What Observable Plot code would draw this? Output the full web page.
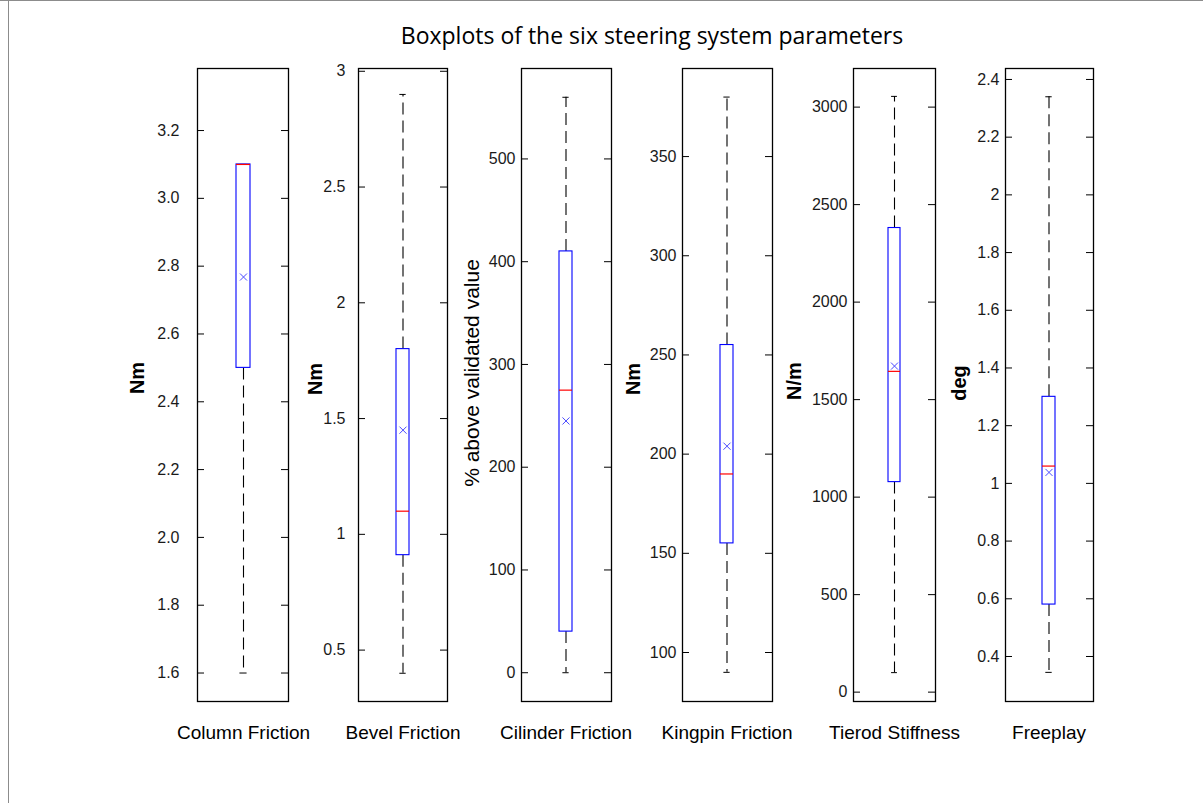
<!DOCTYPE html>
<html>
<head>
<meta charset="utf-8">
<script src="https://cdn.jsdelivr.net/npm/d3@7"></script>
<script src="https://cdn.jsdelivr.net/npm/@observablehq/plot@0.6"></script>
<style>
  html, body { margin: 0; padding: 0; background: #fff; }
  #fig { position: relative; width: 1203px; height: 803px; overflow: hidden; background: #fff; }
  #title { position: absolute; left: 352px; width: 600px; top: 20px; text-align: center;
           font-family: "Open Sans", sans-serif; font-size: 23px; line-height: 30px; color: #000; }
  .panel { position: absolute; }
  .panel svg { overflow: visible; }
  #bt { position: absolute; left: 0; top: 0; width: 1203px; height: 1px; background: #8c8c8c; }
  #bl { position: absolute; left: 8px; top: 0; width: 1px; height: 803px; background: #8c8c8c; }
</style>
</head>
<body>
<div id="fig">
  <div id="bt"></div><div id="bl"></div>
  <div id="title">Boxplots of the six steering system parameters</div>
</div>
<script>
// ---- data ----
const names = ["Column Friction", "Bevel Friction", "Cilinder Friction", "Kingpin Friction", "Tierod Stiffness", "Freeplay"];
const units = ["Nm", "Nm", "% above validated value", "Nm", "N/m", "deg"];
const whiskerLow  = [1.6,   0.4,  0,   90,  100,  0.345];
const quart1      = [2.5,   0.91, 40,  155, 1077, 0.58];
const medians     = [3.1,   1.1,  275, 190, 1645, 1.06];
const quart3      = [3.1,   1.8,  410, 255, 2380, 1.3];
const whiskerHigh = [3.1,   2.9,  560, 380, 3055, 2.34];
const means       = [2.768, 1.45, 245, 204, 1672, 1.038];
const yDomains = [[1.516, 3.383], [0.278, 3.012], [-28, 588], [75.3, 394.4], [-48, 3198], [0.244, 2.438]];
const tickValues = [
  [1.6, 1.8, 2.0, 2.2, 2.4, 2.6, 2.8, 3.0, 3.2],
  [0.5, 1, 1.5, 2, 2.5, 3],
  [0, 100, 200, 300, 400, 500],
  [100, 150, 200, 250, 300, 350],
  [0, 500, 1000, 1500, 2000, 2500, 3000],
  [0.4, 0.6, 0.8, 1, 1.2, 1.4, 1.6, 1.8, 2, 2.2, 2.4]
];
const tickDecimals = [1, null, null, null, null, null];

// ---- layout ----
const panelLeft  = [197, 358, 521, 682, 853, 1005];
const panelRight = [288, 447, 611, 772, 935, 1093];
const panelTop = 68, panelBottom = 701;
const tickPad = [18, 13, 6, 6, 6, 6];
const unitDx = [-59.5, -43, -49.5, -49, -59, -46];
const unitDy = [-7, -6, -12, -6, -4, -2];
const ML = 80, MR = 40, MT = 10, MB = 60;
const font = "'Liberation Sans', Arial, sans-serif";

const fig = document.getElementById("fig");
names.forEach((name, i) => {
  const pw = panelRight[i] - panelLeft[i];
  const ph = panelBottom - panelTop;
  const row = {name, lo: whiskerLow[i], q1: quart1[i], med: medians[i], q3: quart3[i], hi: whiskerHigh[i], mean: means[i]};
  const fmt = tickDecimals[i] != null ? (d => d.toFixed(tickDecimals[i])) : (d => String(d));
  const bw = pw * 0.15;
  const chart = Plot.plot({
    width: pw + ML + MR,
    height: ph + MT + MB,
    marginLeft: ML, marginRight: MR, marginTop: MT, marginBottom: MB,
    style: {background: "transparent", fontFamily: font, overflow: "visible"},
    x: {type: "band", domain: [name], padding: 0.739},
    y: {domain: yDomains[i]},
    marks: [
      // inward ticks, both sides
      Plot.tickY(tickValues[i], {y: d => d, stroke: "#000", strokeWidth: 1, insetRight: pw - 7}),
      Plot.tickY(tickValues[i], {y: d => d, stroke: "#000", strokeWidth: 1, insetLeft: pw - 7}),
      Plot.axisY(tickValues[i], {anchor: "left", tickSize: 0, tickPadding: tickPad[i], tickFormat: fmt,
        label: null, fontSize: 16, fill: "#1a1a1a"}),
      // whiskers
      Plot.ruleX([row], {x: "name", y1: "q3", y2: "hi", stroke: "#000", strokeWidth: 1.1, strokeDasharray: "12,6"}),
      Plot.ruleX([row], {x: "name", y1: "q1", y2: "lo", stroke: "#000", strokeWidth: 1.1, strokeDasharray: "12,6"}),
      Plot.tickY([row], {x: "name", y: "hi", stroke: "#000", insetLeft: bw / 4, insetRight: bw / 4}),
      Plot.tickY([row], {x: "name", y: "lo", stroke: "#000", insetLeft: bw / 4, insetRight: bw / 4}),
      // box
      Plot.barY([row], {x: "name", y1: "q1", y2: "q3", fill: "white", stroke: "#0000ff", strokeWidth: 1.1}),
      Plot.tickY([row], {x: "name", y: "med", stroke: "#ff0000", strokeWidth: 1.2}),
      Plot.dot([row], {x: "name", y: "mean", symbol: "times", r: 3.3, stroke: "#4a4aff", strokeWidth: 1}),
      Plot.frame({stroke: "#000", strokeWidth: 1.3}),
      Plot.axisX({anchor: "bottom", tickSize: 0, tickPadding: 24, fontSize: 19, label: null, fill: "#000"}),
      Plot.text([units[i]], {text: d => d, frameAnchor: "left", textAnchor: "middle", rotate: -90,
        dx: unitDx[i], dy: unitDy[i],
        fontSize: i === 2 ? 21 : 20, fontWeight: i === 2 ? "normal" : "bold", fill: "#000"})
    ]
  });
  const wrap = document.createElement("div");
  wrap.className = "panel";
  wrap.style.left = (panelLeft[i] - ML) + "px";
  wrap.style.top = (panelTop - MT) + "px";
  wrap.appendChild(chart);
  fig.appendChild(wrap);
});
</script>
</body>
</html>
